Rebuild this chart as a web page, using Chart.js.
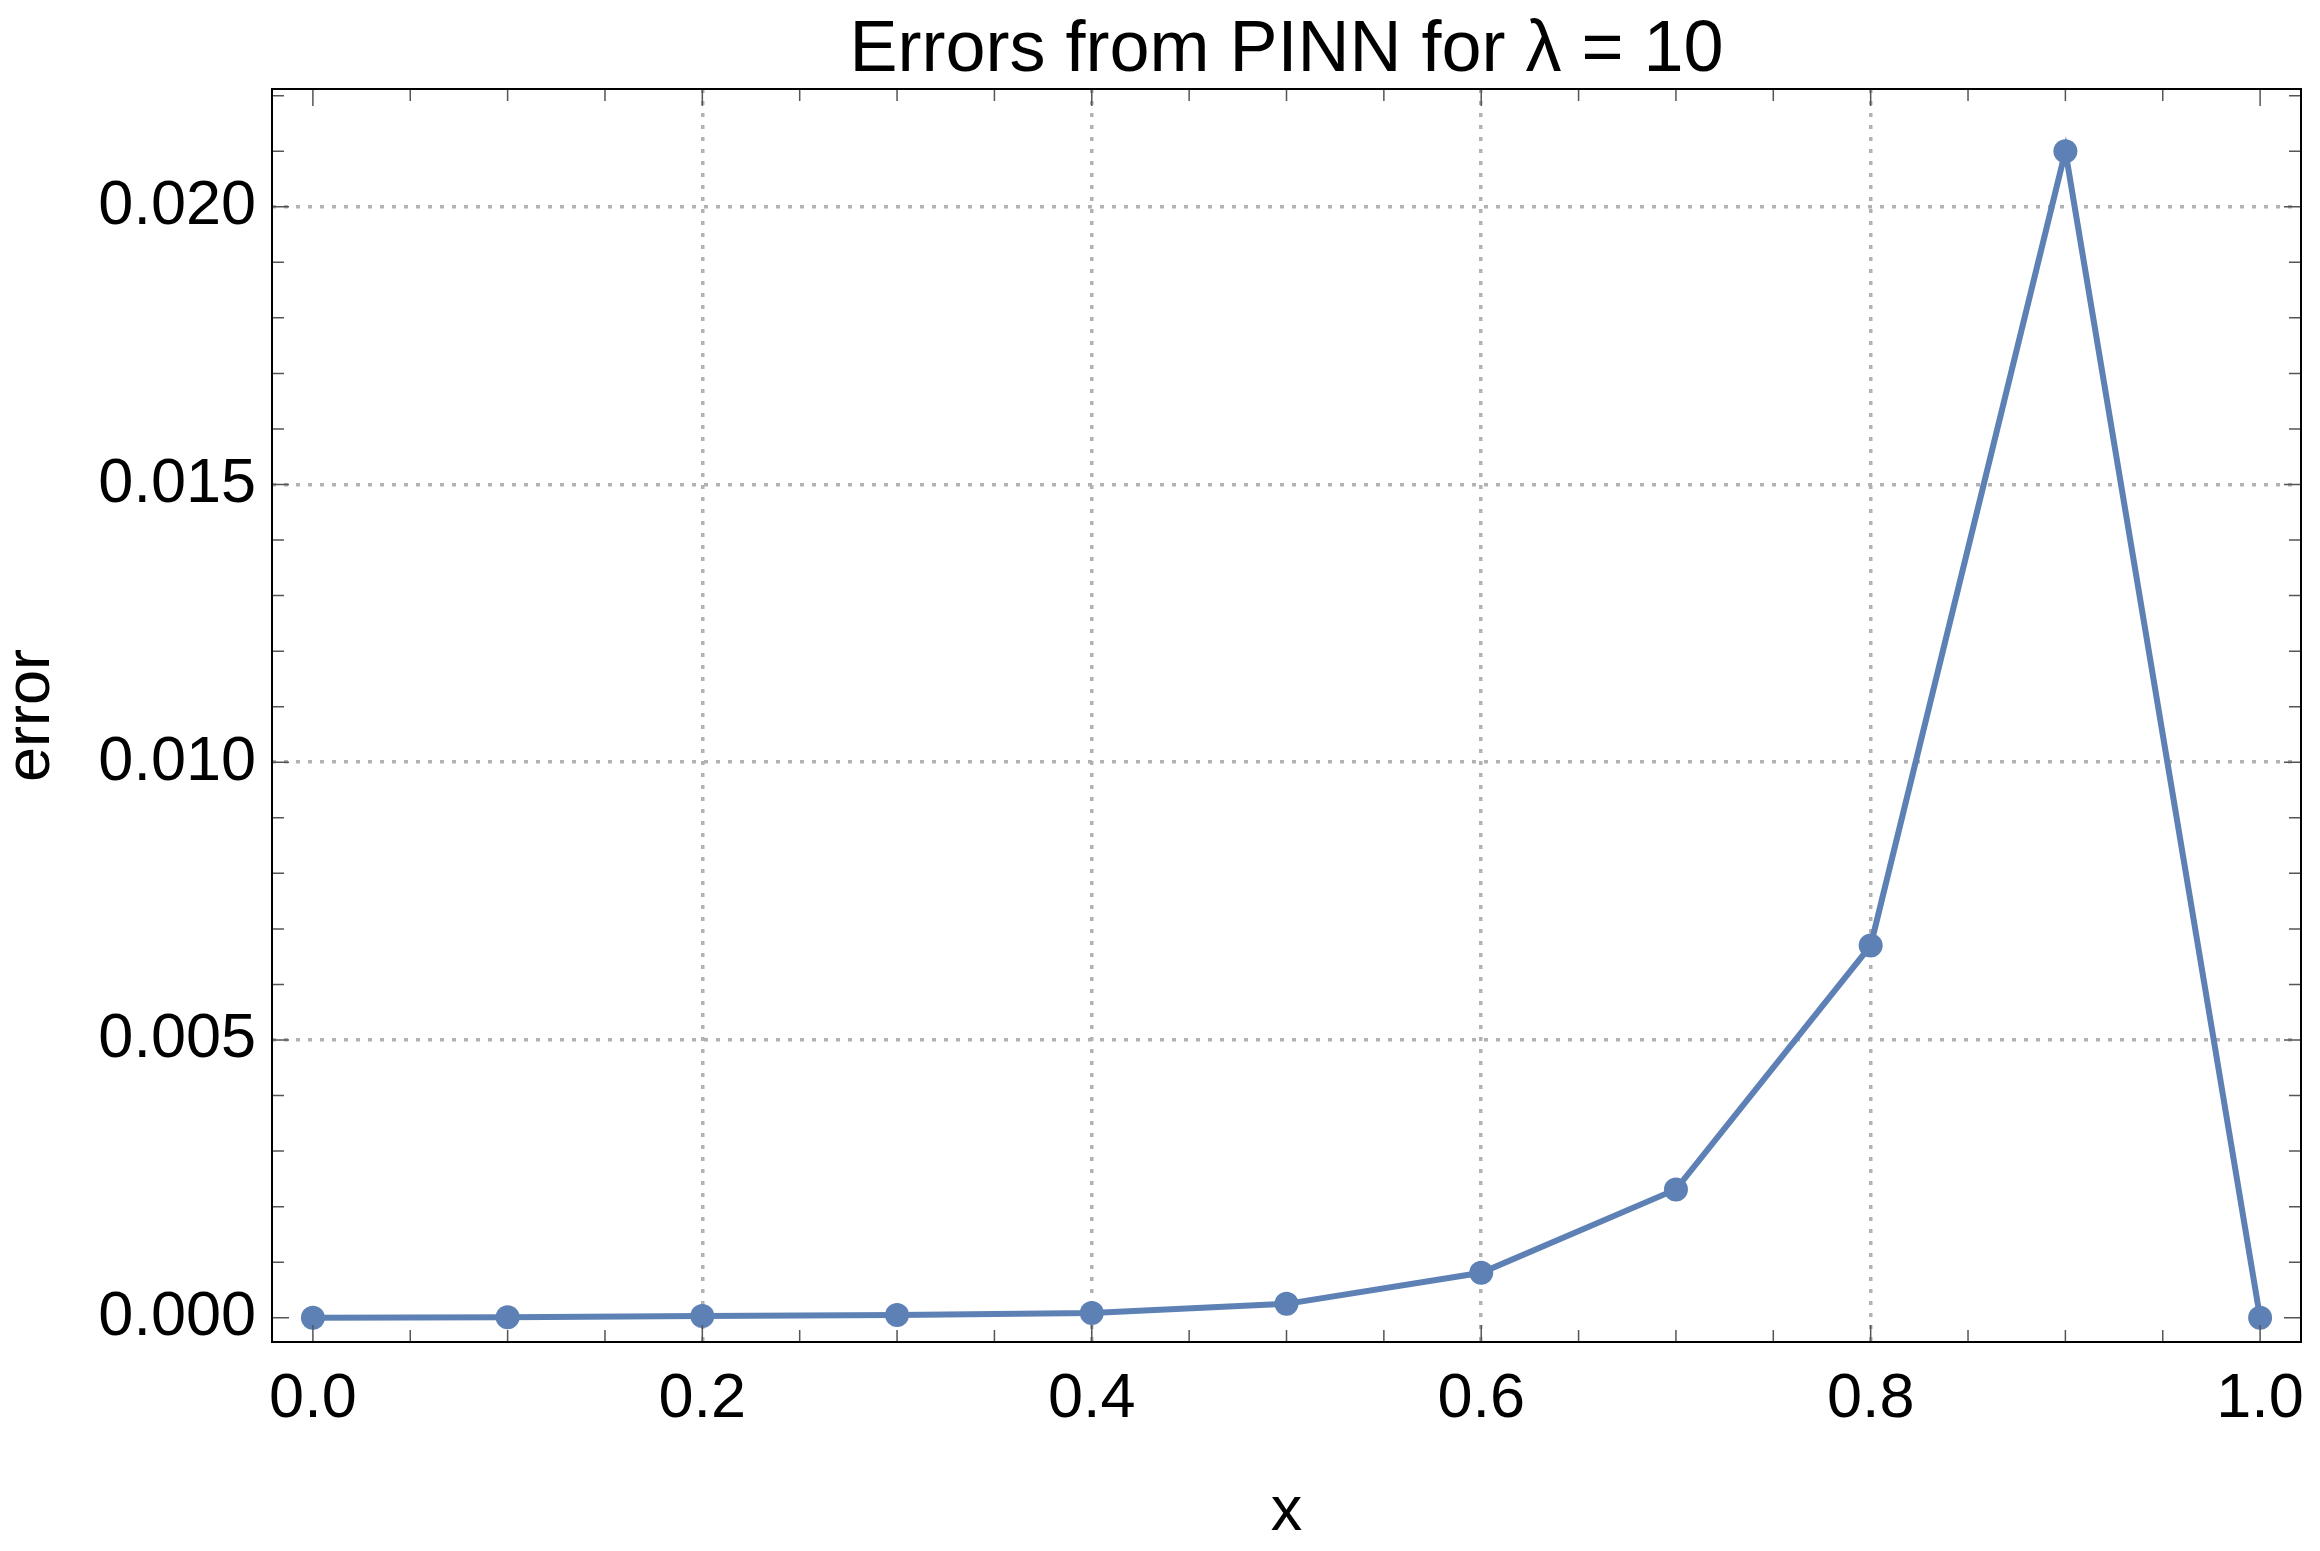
<!DOCTYPE html>
<html>
<head>
<meta charset="utf-8">
<title>Errors from PINN</title>
<script src="https://cdn.jsdelivr.net/npm/chart.js@4.4.1/dist/chart.umd.min.js"></script>
<style>
  html, body { margin: 0; padding: 0; background: #fff; }
  #wrap { width: 2320px; height: 1551px; }
</style>
</head>
<body>
<div id="wrap"><canvas id="errChart" width="2320" height="1551"></canvas></div>
<script>
// data
const xValues = [0, 0.1, 0.2, 0.3, 0.4, 0.5, 0.6, 0.7, 0.8, 0.9, 1.0];
const errorValues = [0, 0.00001, 0.00003, 0.00005, 0.000085, 0.00025, 0.00081, 0.00231, 0.0067, 0.0210, 0];

// tick labels
const xTickValues = [0, 0.2, 0.4, 0.6, 0.8, 1.0];
const xTickLabels = ['0.0', '0.2', '0.4', '0.6', '0.8', '1.0'];
const yTickValues = [0, 0.005, 0.010, 0.015, 0.020];
const yTickLabels = ['0.000', '0.005', '0.010', '0.015', '0.020'];

const titleParts = ['Errors from PINN for ', 'λ', ' = 10'];

const FONT = '"Liberation Sans", Arial, Helvetica, sans-serif';
const LINE_COLOR = '#5E81B5';

function near(a, b) { return Math.abs(a - b) < 1e-9; }
function majorIndex(list, v) { return list.findIndex(t => near(t, v)); }

// minor ticks every 0.05 on x and 0.001 on y, labels only on majors
function buildTicks(scale, step, count) {
    const ticks = [];
    for (let i = 0; i <= count; i++) ticks.push({ value: Math.round(i * step * 1e6) / 1e6 });
    scale.ticks = ticks;
}

// frame + inward ticks on all four sides, like the original
const framePlugin = {
    id: 'frame',
    afterDatasetsDraw(chart) {
        const { ctx, chartArea: a, scales } = chart;
        ctx.save();
        ctx.lineWidth = 1.5;
        ctx.strokeStyle = '#555';
        scales.x.ticks.forEach(t => {
            const px = scales.x.getPixelForValue(t.value);
            const len = majorIndex(xTickValues, t.value) >= 0 ? 17 : 12;
            ctx.beginPath();
            ctx.moveTo(px, a.bottom); ctx.lineTo(px, a.bottom - len);
            ctx.moveTo(px, a.top); ctx.lineTo(px, a.top + len);
            ctx.stroke();
        });
        scales.y.ticks.forEach(t => {
            const py = scales.y.getPixelForValue(t.value);
            const len = majorIndex(yTickValues, t.value) >= 0 ? 17 : 12;
            ctx.beginPath();
            ctx.moveTo(a.left, py); ctx.lineTo(a.left + len, py);
            ctx.moveTo(a.right, py); ctx.lineTo(a.right - len, py);
            ctx.stroke();
        });
        ctx.strokeStyle = '#000';
        ctx.lineWidth = 2;
        ctx.strokeRect(a.left, a.top, a.right - a.left, a.bottom - a.top);
        ctx.restore();
    },
    afterDraw(chart) {
        // title centred over the plot frame
        const { ctx, chartArea: a } = chart;
        ctx.save();
        ctx.font = '72px ' + FONT;
        ctx.fillStyle = '#000';
        ctx.textBaseline = 'alphabetic';
        let total = 0;
        titleParts.forEach(p => total += ctx.measureText(p).width);
        let x = (a.left + a.right) / 2 - total / 2;
        titleParts.forEach(p => {
            ctx.fillText(p, x, 71);
            x += ctx.measureText(p).width;
        });
        ctx.restore();
    }
};

new Chart(document.getElementById('errChart').getContext('2d'), {
    type: 'line',
    data: {
        datasets: [{
            label: 'error',
            data: xValues.map((x, i) => ({ x: x, y: errorValues[i] })),
            borderColor: LINE_COLOR,
            backgroundColor: LINE_COLOR,
            borderWidth: 6,
            pointRadius: 12,
            pointBorderWidth: 0,
            pointBackgroundColor: LINE_COLOR,
            tension: 0,
            clip: false
        }]
    },
    options: {
        responsive: false,
        animation: false,
        devicePixelRatio: 1,
        layout: { padding: { top: 89, right: 19, bottom: 0, left: 0 } },
        plugins: { legend: { display: false }, tooltip: { enabled: false }, title: { display: false } },
        scales: {
            x: {
                type: 'linear',
                min: -0.021,
                max: 1.021,
                afterBuildTicks: s => buildTicks(s, 0.05, 20),
                afterFit: s => { s.height = 209; s.paddingLeft = 0; s.paddingRight = 0; },
                grid: {
                    drawTicks: false,
                    lineWidth: 3.5,
                    color: c => {
                        const v = c.tick ? c.tick.value : -1;
                        const i = majorIndex(xTickValues, v);
                        return (i > 0 && i < xTickValues.length - 1) ? '#b2b2b2' : 'rgba(0,0,0,0)';
                    }
                },
                border: { display: false, dash: [4, 8] },
                ticks: {
                    autoSkip: false,
                    maxRotation: 0,
                    padding: 20,
                    color: '#000',
                    font: { family: FONT, size: 63 },
                    callback: v => { const i = majorIndex(xTickValues, v); return i >= 0 ? xTickLabels[i] : ''; }
                },
                title: {
                    display: true,
                    text: 'x',
                    color: '#000',
                    font: { family: FONT, size: 63, lineHeight: 1.2 },
                    padding: { top: 0, bottom: 1 }
                }
            },
            y: {
                type: 'linear',
                min: -0.000437,
                max: 0.02212,
                afterBuildTicks: s => buildTicks(s, 0.001, 22),
                afterFit: s => { s.width = 272; s.paddingTop = 0; s.paddingBottom = 0; },
                grid: {
                    drawTicks: false,
                    lineWidth: 3.5,
                    color: c => {
                        const v = c.tick ? c.tick.value : -1;
                        return majorIndex(yTickValues, v) > 0 ? '#b2b2b2' : 'rgba(0,0,0,0)';
                    }
                },
                border: { display: false, dash: [4, 8] },
                ticks: {
                    autoSkip: false,
                    padding: 16,
                    color: '#000',
                    font: { family: FONT, size: 63 },
                    callback: v => { const i = majorIndex(yTickValues, v); return i >= 0 ? yTickLabels[i] : ''; }
                },
                title: {
                    display: true,
                    text: 'error',
                    color: '#000',
                    font: { family: FONT, size: 63, lineHeight: 1.0 },
                    padding: { top: 0, bottom: 0 }
                }
            }
        }
    },
    plugins: [framePlugin]
});
</script>
</body>
</html>
